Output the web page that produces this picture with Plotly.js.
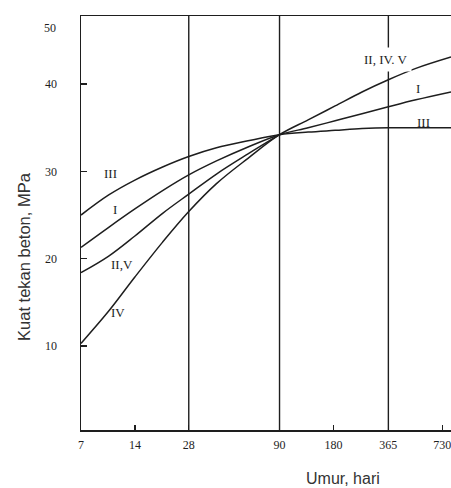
<!DOCTYPE html>
<html>
<head>
<meta charset="utf-8">
<script src="https://cdn.plot.ly/plotly-3.0.1.min.js"></script>
<style>html,body{margin:0;padding:0;background:#fff;}#chart{width:451px;height:488px;}</style>
</head>
<body>
<div id="chart"></div>
<script>
// Data
const days = [7, 10, 14, 20, 28, 40, 60, 90, 130, 184, 260, 365, 520, 817];
const typeIII = [25.0, 27.3, 29.0, 30.5, 31.7, 32.7, 33.5, 34.2, 34.5, 34.7, 34.9, 35.0, 35.0, 35.0];
const typeI = [21.3, 23.6, 25.7, 27.8, 29.6, 31.2, 32.8, 34.2, 35.0, 35.8, 36.6, 37.4, 38.2, 39.1];
const daysIIV = [7, 10, 14, 20, 28, 40, 60, 90];
const typeIIandV = [18.4, 20.3, 22.6, 25.2, 27.4, 29.7, 32.0, 34.2];
const typeIV = [10.3, 14.0, 17.9, 21.9, 25.4, 28.6, 31.5, 34.2, 35.9, 37.5, 39.1, 40.5, 41.8, 43.1];
const xTickVals = [7, 14, 28, 90, 180, 365, 730];
const xTickText = ['7', '14', '28', '90', '180', '365', '730'];
const yTickVals = [10, 20, 30, 40];
const yTickText = ['10', '20', '30', '40'];
const gridDays = [28, 90, 365];

const ink = '#1e1e1e';
const yRange = [0.38, 47.8];
const xRange = [Math.log10(7), Math.log10(817)];

const lineStyle = {color: ink, width: 1.5, shape: 'spline', smoothing: 1};
const traces = [];
gridDays.forEach(d => traces.push({
  x: [d, d], y: yRange, mode: 'lines', line: {color: ink, width: 1.4},
  hoverinfo: 'skip', showlegend: false
}));
traces.push({x: days, y: typeIII, mode: 'lines', line: lineStyle, name: 'III', showlegend: false});
traces.push({x: days, y: typeI, mode: 'lines', line: lineStyle, name: 'I', showlegend: false});
traces.push({x: daysIIV, y: typeIIandV, mode: 'lines', line: lineStyle, name: 'II, V', showlegend: false});
traces.push({x: days, y: typeIV, mode: 'lines', line: lineStyle, name: 'IV', showlegend: false});

const serif = 'Liberation Serif, Times New Roman, serif';
const sans = 'Liberation Sans, Arial, sans-serif';
function lab(text, day, val, extra) {
  return Object.assign({text: text, x: Math.log10(day), y: val, xref: 'x', yref: 'y',
    xanchor: 'center', yanchor: 'middle',
    showarrow: false, font: {family: serif, size: 13, color: ink}}, extra || {});
}

const layout = {
  width: 451, height: 488,
  margin: {l: 81, r: 0, t: 16, b: 58, pad: 0},
  paper_bgcolor: '#fff', plot_bgcolor: '#fff',
  showlegend: false,
  xaxis: {
    type: 'log', range: xRange, tickvals: xTickVals, ticktext: xTickText,
    ticks: 'inside', ticklen: 5, tickwidth: 1.3, tickcolor: ink,
    showline: true, linewidth: 1.5, linecolor: ink, mirror: true,
    showgrid: false, zeroline: false, ticklabelstandoff: 3, ticklabeloverflow: 'allow',
    tickfont: {family: serif, size: 12, color: ink}
  },
  yaxis: {
    range: yRange, tickvals: yTickVals, ticktext: yTickText,
    ticks: 'inside', ticklen: 6, tickwidth: 1.3, tickcolor: ink,
    showline: true, linewidth: 1.5, linecolor: ink, mirror: false,
    showgrid: false, zeroline: false, ticklabelstandoff: 20,
    tickfont: {family: serif, size: 12, color: ink}
  },
  annotations: [
    lab('III', 10.2, 29.8),
    lab('I', 10.8, 25.6),
    lab('II,V', 11.9, 19.3),
    lab('IV', 11.3, 13.8),
    lab('II, IV. V', 350, 42.8, {bgcolor: '#fff', borderpad: 4}),
    lab('I', 535, 39.5),
    lab('III', 570, 35.6),
    {text: '50', xref: 'paper', yref: 'y', x: -0.062, y: 46.4, xanchor: 'right', yanchor: 'middle',
     showarrow: false, font: {family: serif, size: 12, color: ink}},
    {text: 'Kuat tekan beton, MPa', xref: 'paper', yref: 'paper', x: -0.154, y: 0.418,
     xanchor: 'center', yanchor: 'middle',
     textangle: -90, showarrow: false, font: {family: sans, size: 16.5, color: '#333'}},
    {text: 'Umur, hari', xref: 'paper', yref: 'paper', x: 0.708, y: -0.116,
     xanchor: 'center', yanchor: 'middle',
     showarrow: false, font: {family: sans, size: 16, color: '#333'}}
  ]
};

Plotly.newPlot('chart', traces, layout, {displayModeBar: false, staticPlot: true});
</script>
</body>
</html>
